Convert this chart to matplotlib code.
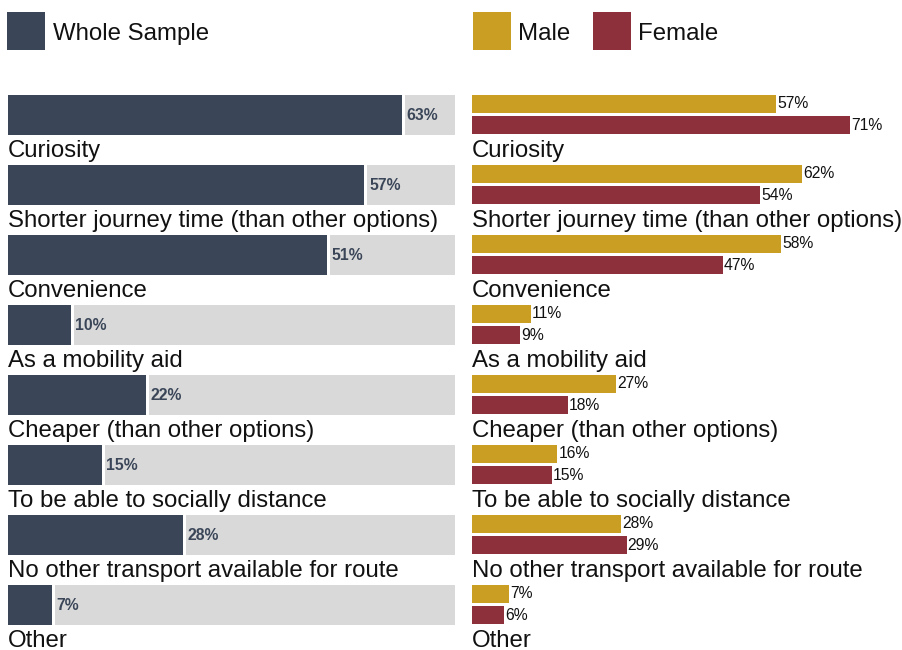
import matplotlib.pyplot as plt
from matplotlib.patches import Rectangle

categories = [
    'Curiosity',
    'Shorter journey time (than other options)',
    'Convenience',
    'As a mobility aid',
    'Cheaper (than other options)',
    'To be able to socially distance',
    'No other transport available for route',
    'Other',
]
whole = [63, 57, 51, 10, 22, 15, 28, 7]
male = [57, 62, 58, 11, 27, 16, 28, 7]
female = [71, 54, 47, 9, 18, 15, 29, 6]

C_WHOLE = '#3a4658'
C_GREY = '#d9d9d9'
C_MALE = '#c99e22'
C_FEMALE = '#8e303b'
C_TEXT = '#111111'

plt.rcParams['font.family'] = ['Liberation Sans', 'DejaVu Sans']

W, H = 903, 650
fig = plt.figure(figsize=(W / 100, H / 100), dpi=100)

# rows: 70 px pitch, first bar top at 95 px
PITCH = 70.0
TOP = 95


def px_axes(x0, x1):
    return fig.add_axes([x0 / W, 0, (x1 - x0) / W, 1])


def setup(ax, xmax):
    ax.set_xlim(0, xmax)
    ax.set_ylim((H - TOP) / PITCH, -TOP / PITCH)
    ax.axis('off')


n = len(categories)
rows = list(range(n))

# left panel: whole sample
axl = px_axes(8, 455)
LMAX = 71.5
setup(axl, LMAX)
bh = 40 / PITCH
gap = 0.5
axl.barh(rows, whole, height=bh, align='edge', color=C_WHOLE)
axl.barh(rows, [LMAX - v - gap for v in whole], left=[v + gap for v in whole],
         height=bh, align='edge', color=C_GREY)
for i, v in enumerate(whole):
    axl.text(v + gap + 0.25, i + bh / 2, f'{v}%', fontsize=11.3, fontweight='bold',
             color=C_WHOLE, va='center', ha='left')
    axl.text(0, i + 0.64, categories[i], fontsize=17.3, color=C_TEXT,
             va='top', ha='left')

# right panel: male / female
axr = px_axes(472, 903)
setup(axr, 431 / 5.33)
mh = 18 / PITCH
foff = 21 / PITCH
axr.barh(rows, male, height=mh, align='edge', color=C_MALE)
axr.barh([r + foff for r in rows], female, height=mh, align='edge', color=C_FEMALE)
for i in rows:
    axr.text(male[i] + 0.2, i + mh / 2, f'{male[i]}%', fontsize=11.3,
             color=C_TEXT, va='center', ha='left')
    axr.text(female[i] + 0.2, i + foff + mh / 2, f'{female[i]}%', fontsize=11.3,
             color=C_TEXT, va='center', ha='left')
    axr.text(0, i + 0.64, categories[i], fontsize=17.3, color=C_TEXT,
             va='top', ha='left')

# legend
def legend_item(x, label, color, tx):
    fig.add_artist(Rectangle((x / W, 1 - 50 / H), 38 / W, 38 / H,
                             transform=fig.transFigure, color=color, lw=0))
    fig.text(tx / W, 1 - 34 / H, label, fontsize=17.3, color=C_TEXT,
             va='center', ha='left')


legend_item(7, 'Whole Sample', C_WHOLE, 53)
legend_item(473, 'Male', C_MALE, 518)
legend_item(593, 'Female', C_FEMALE, 638)

fig.savefig('out.png', dpi=100)
